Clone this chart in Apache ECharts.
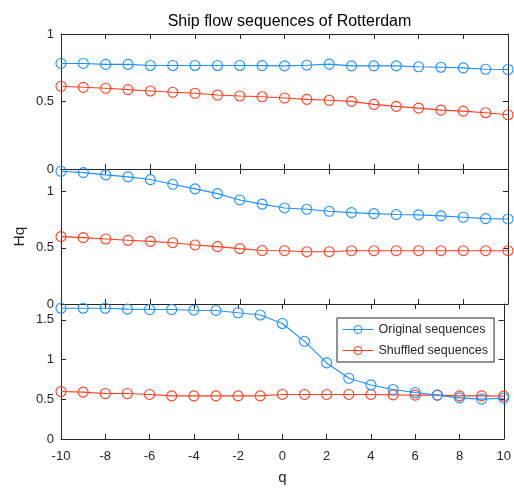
<!DOCTYPE html>
<html><head><meta charset="utf-8">
<script src="https://cdn.jsdelivr.net/npm/echarts@6/dist/echarts.min.js"></script>
<style>html,body{margin:0;padding:0;background:#fff;}#c{width:514px;height:488px;}</style>
</head><body><div id="c"></div>
<script>
const qValues = [-10,-9,-8,-7,-6,-5,-4,-3,-2,-1,0,1,2,3,4,5,6,7,8,9,10];
const xTicks = [-10,-8,-6,-4,-2,0,2,4,6,8,10];
const p1Original = [0.782,0.782,0.775,0.775,0.767,0.767,0.767,0.767,0.767,0.766,0.764,0.769,0.777,0.764,0.764,0.764,0.757,0.754,0.749,0.739,0.737];
const p1Shuffled = [0.613,0.605,0.598,0.588,0.578,0.568,0.561,0.548,0.541,0.535,0.526,0.516,0.509,0.501,0.479,0.464,0.451,0.436,0.429,0.417,0.402];
const p2Original = [1.180,1.168,1.148,1.130,1.106,1.064,1.023,0.981,0.925,0.888,0.854,0.842,0.824,0.812,0.803,0.795,0.792,0.783,0.771,0.759,0.756];
const p2Shuffled = [0.599,0.590,0.578,0.566,0.557,0.545,0.525,0.510,0.492,0.475,0.474,0.465,0.465,0.474,0.474,0.474,0.474,0.474,0.474,0.474,0.474];
const p3Original = [1.647,1.647,1.647,1.635,1.631,1.631,1.622,1.619,1.590,1.562,1.455,1.230,0.958,0.765,0.681,0.623,0.586,0.552,0.518,0.502,0.514];
const p3Shuffled = [0.598,0.590,0.573,0.573,0.561,0.543,0.543,0.543,0.543,0.543,0.561,0.561,0.561,0.561,0.561,0.556,0.552,0.552,0.543,0.543,0.540];
const yMax = [1, 1.2, 1.7];
const seriesNames = ['Original sequences','Shuffled sequences'];
const titleText = 'Ship flow sequences of Rotterdam';

const FONT = 'Liberation Sans, Arial, sans-serif';
const INK = '#262626';
const BLUE = '#1E90FF';
const RED = '#FF4020';
const panels = [[p1Original,p1Shuffled],[p2Original,p2Shuffled],[p3Original,p3Shuffled]];
const tops = [34, 169, 304];
const H = 135;

const grids = [], xAxes = [], yAxes = [], series = [];
panels.forEach((pair, i) => {
  grids.push({left: 61, width: 447, top: tops[i], height: H, containLabel: false});
  const last = i === 2;
  const axLine = {show: true, onZero: false, lineStyle: {color: INK, width: 1}};
  const tick = {show: true, inside: true, length: 5, lineStyle: {color: INK}};
  xAxes.push({type: 'value', gridIndex: i, min: -10, max: 10, interval: 2, position: 'bottom',
    axisLine: axLine, axisTick: tick, splitLine: {show: false},
    axisLabel: {show: last, color: INK, fontFamily: FONT, fontSize: 13, margin: 11},
    name: last ? 'q' : '', nameLocation: 'middle', nameGap: 31, nameMoveOverlap: false,
    nameTextStyle: {color: INK, fontFamily: FONT, fontSize: 15}});
  xAxes.push({type: 'value', gridIndex: i, min: -10, max: 10, interval: 2, position: 'top',
    axisLine: axLine, axisTick: tick, splitLine: {show: false}, axisLabel: {show: false}});
  yAxes.push({type: 'value', gridIndex: i, min: 0, max: yMax[i], interval: 0.5, position: 'left',
    axisLine: axLine, axisTick: tick, splitLine: {show: false},
    axisLabel: {color: INK, fontFamily: FONT, fontSize: 13, margin: 7, showMaxLabel: i === 0,
      formatter: v => (Math.abs(v*2 - Math.round(v*2)) < 1e-6 ? String(v) : '')},
    name: i === 1 ? 'Hq' : '', nameLocation: 'middle', nameGap: 33, nameMoveOverlap: false,
    nameTextStyle: {color: INK, fontFamily: FONT, fontSize: 15.5}});
  yAxes.push({type: 'value', gridIndex: i, min: 0, max: yMax[i], interval: 0.5, position: 'right',
    axisLine: axLine, axisTick: tick, splitLine: {show: false}, axisLabel: {show: false}});
  pair.forEach((vals, k) => {
    const col = k === 0 ? BLUE : RED;
    series.push({type: 'line', name: seriesNames[k], xAxisIndex: i*2, yAxisIndex: i*2,
      data: qValues.map((q, j) => [q, vals[j]]),
      symbol: 'circle', symbolSize: 10, showSymbol: true,
      lineStyle: {color: col, width: 1.1},
      itemStyle: {color: 'rgba(255,255,255,0)', borderColor: col, borderWidth: 1.1},
      z: k === 0 ? 3 : 2, animation: false});
  });
});

const chart = echarts.init(document.getElementById('c'), null, {renderer: 'canvas'});
chart.setOption({
  animation: false,
  title: {text: titleText, left: 284.5, top: 9, textAlign: 'center',
    textStyle: {color: '#000', fontFamily: FONT, fontSize: 16, fontWeight: 'normal'}},
  legend: {data: seriesNames, orient: 'vertical', left: 337, top: 318,
    backgroundColor: '#fff', borderColor: INK, borderWidth: 1, padding: [5, 6, 5, 5],
    itemWidth: 31, itemHeight: 10, itemGap: 8,
    lineStyle: {width: 1}, itemStyle: {borderWidth: 1},
    textStyle: {color: INK, fontFamily: FONT, fontSize: 12.5}},
  grid: grids, xAxis: xAxes, yAxis: yAxes, series: series
});
</script></body></html>
